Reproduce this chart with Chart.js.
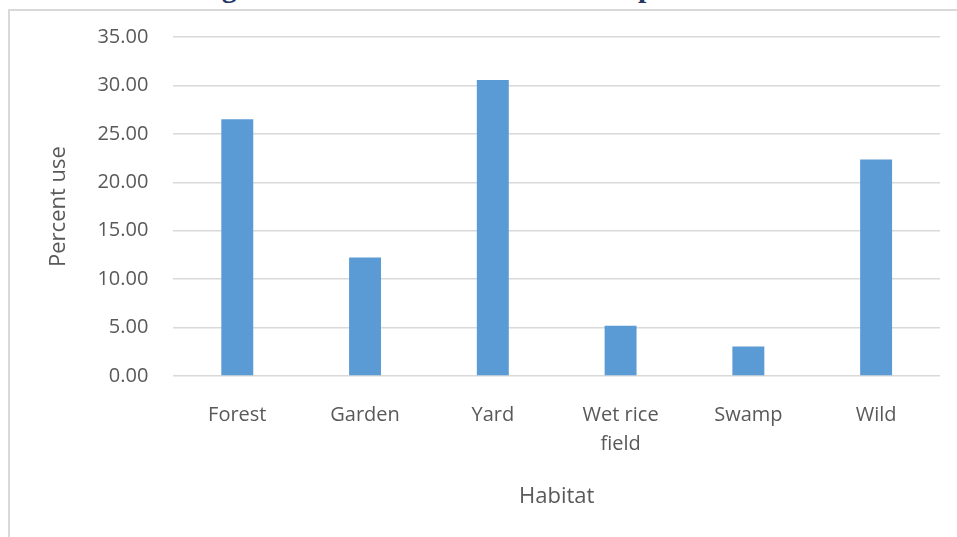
<!DOCTYPE html>
<html>
<head>
<meta charset="utf-8">
<script src="https://cdn.jsdelivr.net/npm/chart.js@4/dist/chart.umd.min.js"></script>
<style>
  html, body { margin: 0; padding: 0; background: #fff; overflow: hidden; }
  #wrap { position: relative; width: 957px; height: 537px; }
  #titulo {
    position: absolute; left: 0; width: 994px; top: -28px; text-align: center;
    font: bold 30px/30px "Liberation Serif", "Times New Roman", serif; color: #1f3864;
    white-space: nowrap;
  }
  #moldura {
    position: absolute; left: 8px; top: 9px; width: 980px; height: 560px;
    border: 2px solid #d9d9d9; box-sizing: border-box; pointer-events: none;
  }
  canvas { position: absolute; left: 0; top: 0; }
</style>
</head>
<body>
<div id="wrap">
  <div id="titulo">Figure 3: Habitat of the medicinal plants found</div>
  <div id="moldura"></div>
  <canvas id="habitat-chart" width="957" height="537"></canvas>
</div>
<script>
// Percentual de uso por habitat
const habitats = ['Forest', 'Garden', 'Yard', ['Wet rice', 'field'], 'Swamp', 'Wild'];
const percentUse = [26.5, 12.25, 30.55, 5.2, 3.05, 22.35];

const corTexto = '#595959';
const fonte = '"Open Sans", "Liberation Sans", sans-serif';

new Chart(document.getElementById('habitat-chart'), {
  type: 'bar',
  data: {
    labels: habitats,
    datasets: [{
      label: 'Percent use',
      data: percentUse,
      backgroundColor: '#5b9bd5',
      borderWidth: 0,
      categoryPercentage: 1,
      barPercentage: 0.25,
    }],
  },
  options: {
    responsive: false,
    animation: false,
    layout: { padding: { left: 46, right: 17, top: 35, bottom: 27.5 } },
    plugins: {
      legend: { display: false },
      tooltip: { enabled: false },
    },
    scales: {
      x: {
        grid: { display: false, drawTicks: false },
        border: { display: false },
        ticks: {
          color: corTexto, font: { family: fonte, size: 20, lineHeight: 1.45 },
          padding: 24.5, maxRotation: 0, autoSkip: false,
        },
        title: {
          display: true, text: 'Habitat', color: corTexto,
          font: { family: fonte, size: 22 }, padding: { top: 0, bottom: 0 },
        },
      },
      y: {
        min: 0, max: 35,
        grid: { color: '#d9d9d9', lineWidth: 1.5, drawTicks: false },
        border: { display: false },
        ticks: {
          stepSize: 5, color: corTexto, font: { family: fonte, size: 20 },
          padding: 25, callback: (v) => v.toFixed(2),
        },
        title: {
          display: true, text: 'Percent use', color: corTexto,
          font: { family: fonte, size: 22 }, padding: { top: 0, bottom: 0 },
        },
      },
    },
  },
});
</script>
</body>
</html>
